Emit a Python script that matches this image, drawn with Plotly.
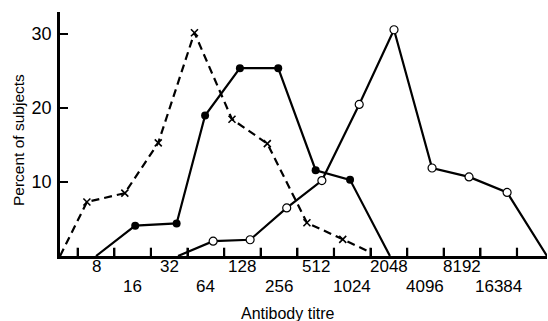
import numpy as np
import plotly.graph_objects as go

# Category (titre) labels on the x axis
titre_labels = [8, 16, 32, 64, 128, 256, 512, 1024, 2048, 4096, 8192, 16384]

# Dashed series (x markers)
dashed_titre = [4.05, 6.73, 13.8, 26.0, 51.6, 105, 205, 434, 855, 1400]
dashed_pct = [0, 7.3, 8.5, 15.3, 30.2, 18.5, 15.2, 4.5, 2.25, 0.6]

# Filled-circle series
filled_titre = [8, 16.8, 36.8, 63.1, 122, 252, 512, 982, 2090]
filled_pct = [0, 4.1, 4.4, 19.0, 25.4, 25.4, 11.6, 10.3, 0]

# Open-circle series
open_titre = [37.8, 73.5, 148, 296, 576, 1168, 2257, 4640, 9345, 19220, 40900]
open_pct = [0, 2.0, 2.2, 6.5, 10.2, 20.5, 30.6, 11.9, 10.7, 8.6, 0]

y_ticks = [10, 20, 30]

FONT = "Liberation Sans"
BLACK = "#000000"

# x axis is drawn in log2(titre) units
def lx(v):
    return [float(np.log2(t)) for t in v]

X_RANGE = [2.016, 15.32]
Y_RANGE = [0, 33]

label_pos = lx(titre_labels)
boundaries = [p - 0.5 for p in label_pos] + [label_pos[-1] + 0.5]

fig = go.Figure()

# x-axis tick marks (between categories) as layout shapes tied to the x scale
shapes = []
for b in boundaries:
    shapes.append(dict(type="line", xref="x", yref="paper",
                       x0=b, x1=b, y0=0, y1=0.034,
                       line=dict(color=BLACK, width=2.2), layer="above"))

# lines
fig.add_trace(go.Scatter(x=lx(dashed_titre), y=dashed_pct, mode="lines",
                         line=dict(color=BLACK, width=2.2, dash="8px,5px"),
                         cliponaxis=False, showlegend=False, hoverinfo="skip"))
fig.add_trace(go.Scatter(x=lx(filled_titre), y=filled_pct, mode="lines",
                         line=dict(color=BLACK, width=2.2),
                         cliponaxis=False, showlegend=False, hoverinfo="skip"))
fig.add_trace(go.Scatter(x=lx(open_titre), y=open_pct, mode="lines",
                         line=dict(color=BLACK, width=2.2),
                         cliponaxis=False, showlegend=False, hoverinfo="skip"))

# markers (interior points only)
fig.add_trace(go.Scatter(x=lx(dashed_titre[1:-1]), y=dashed_pct[1:-1], mode="markers",
                         marker=dict(symbol="x-thin", size=7,
                                     line=dict(color=BLACK, width=1.6)),
                         cliponaxis=False, showlegend=False))
fig.add_trace(go.Scatter(x=lx(filled_titre[1:-1]), y=filled_pct[1:-1], mode="markers",
                         marker=dict(symbol="circle", size=8, color=BLACK),
                         cliponaxis=False, showlegend=False))
fig.add_trace(go.Scatter(x=lx(open_titre[1:-1]), y=open_pct[1:-1], mode="markers",
                         marker=dict(symbol="circle", size=8, color="white",
                                     line=dict(color=BLACK, width=1.2)),
                         cliponaxis=False, showlegend=False))

fig.update_layout(
    xaxis=dict(range=X_RANGE, tickmode="array", tickvals=boundaries,
               showticklabels=False, ticks="inside", ticklen=8, tickwidth=2.2,
               tickcolor=BLACK,
               showline=True, linecolor=BLACK, linewidth=2.5,
               showgrid=False, zeroline=False),
    yaxis=dict(range=Y_RANGE, tickmode="array", tickvals=y_ticks,
               ticks="inside", ticklen=8, tickwidth=1.8, tickcolor=BLACK,
               showline=True, linecolor=BLACK, linewidth=2.5,
               showgrid=False, zeroline=False,
               tickfont=dict(family=FONT, size=18, color=BLACK),
               ticklabelstandoff=2),
)

annotations = []
for i, (t, p) in enumerate(zip(titre_labels, label_pos)):
    annotations.append(dict(x=p, y=0, xref="x", yref="paper",
                            text=str(t), showarrow=False,
                            xanchor="center", yanchor="middle",
                            yshift=-10 if i % 2 == 0 else -30,
                            font=dict(family=FONT, size=17, color=BLACK)))
annotations.append(dict(x=(18 - 60) / 487, y=(256 - 140) / 244, xref="paper", yref="paper",
                        text="Percent of subjects", textangle=-90, showarrow=False,
                        xanchor="center", yanchor="middle",
                        font=dict(family=FONT, size=15.5, color=BLACK)))
annotations.append(dict(x=(287 - 60) / 487, y=0, xref="paper", yref="paper",
                        text="Antibody titre", showarrow=False,
                        xanchor="center", yanchor="middle", yshift=-57,
                        font=dict(family=FONT, size=16, color=BLACK)))

fig.update_layout(width=548, height=321,
                  margin=dict(l=60, r=1, t=12, b=65),
                  paper_bgcolor="white", plot_bgcolor="white",
                  annotations=annotations, shapes=shapes,
                  font=dict(family=FONT, color=BLACK))

fig.write_html("out.html")
